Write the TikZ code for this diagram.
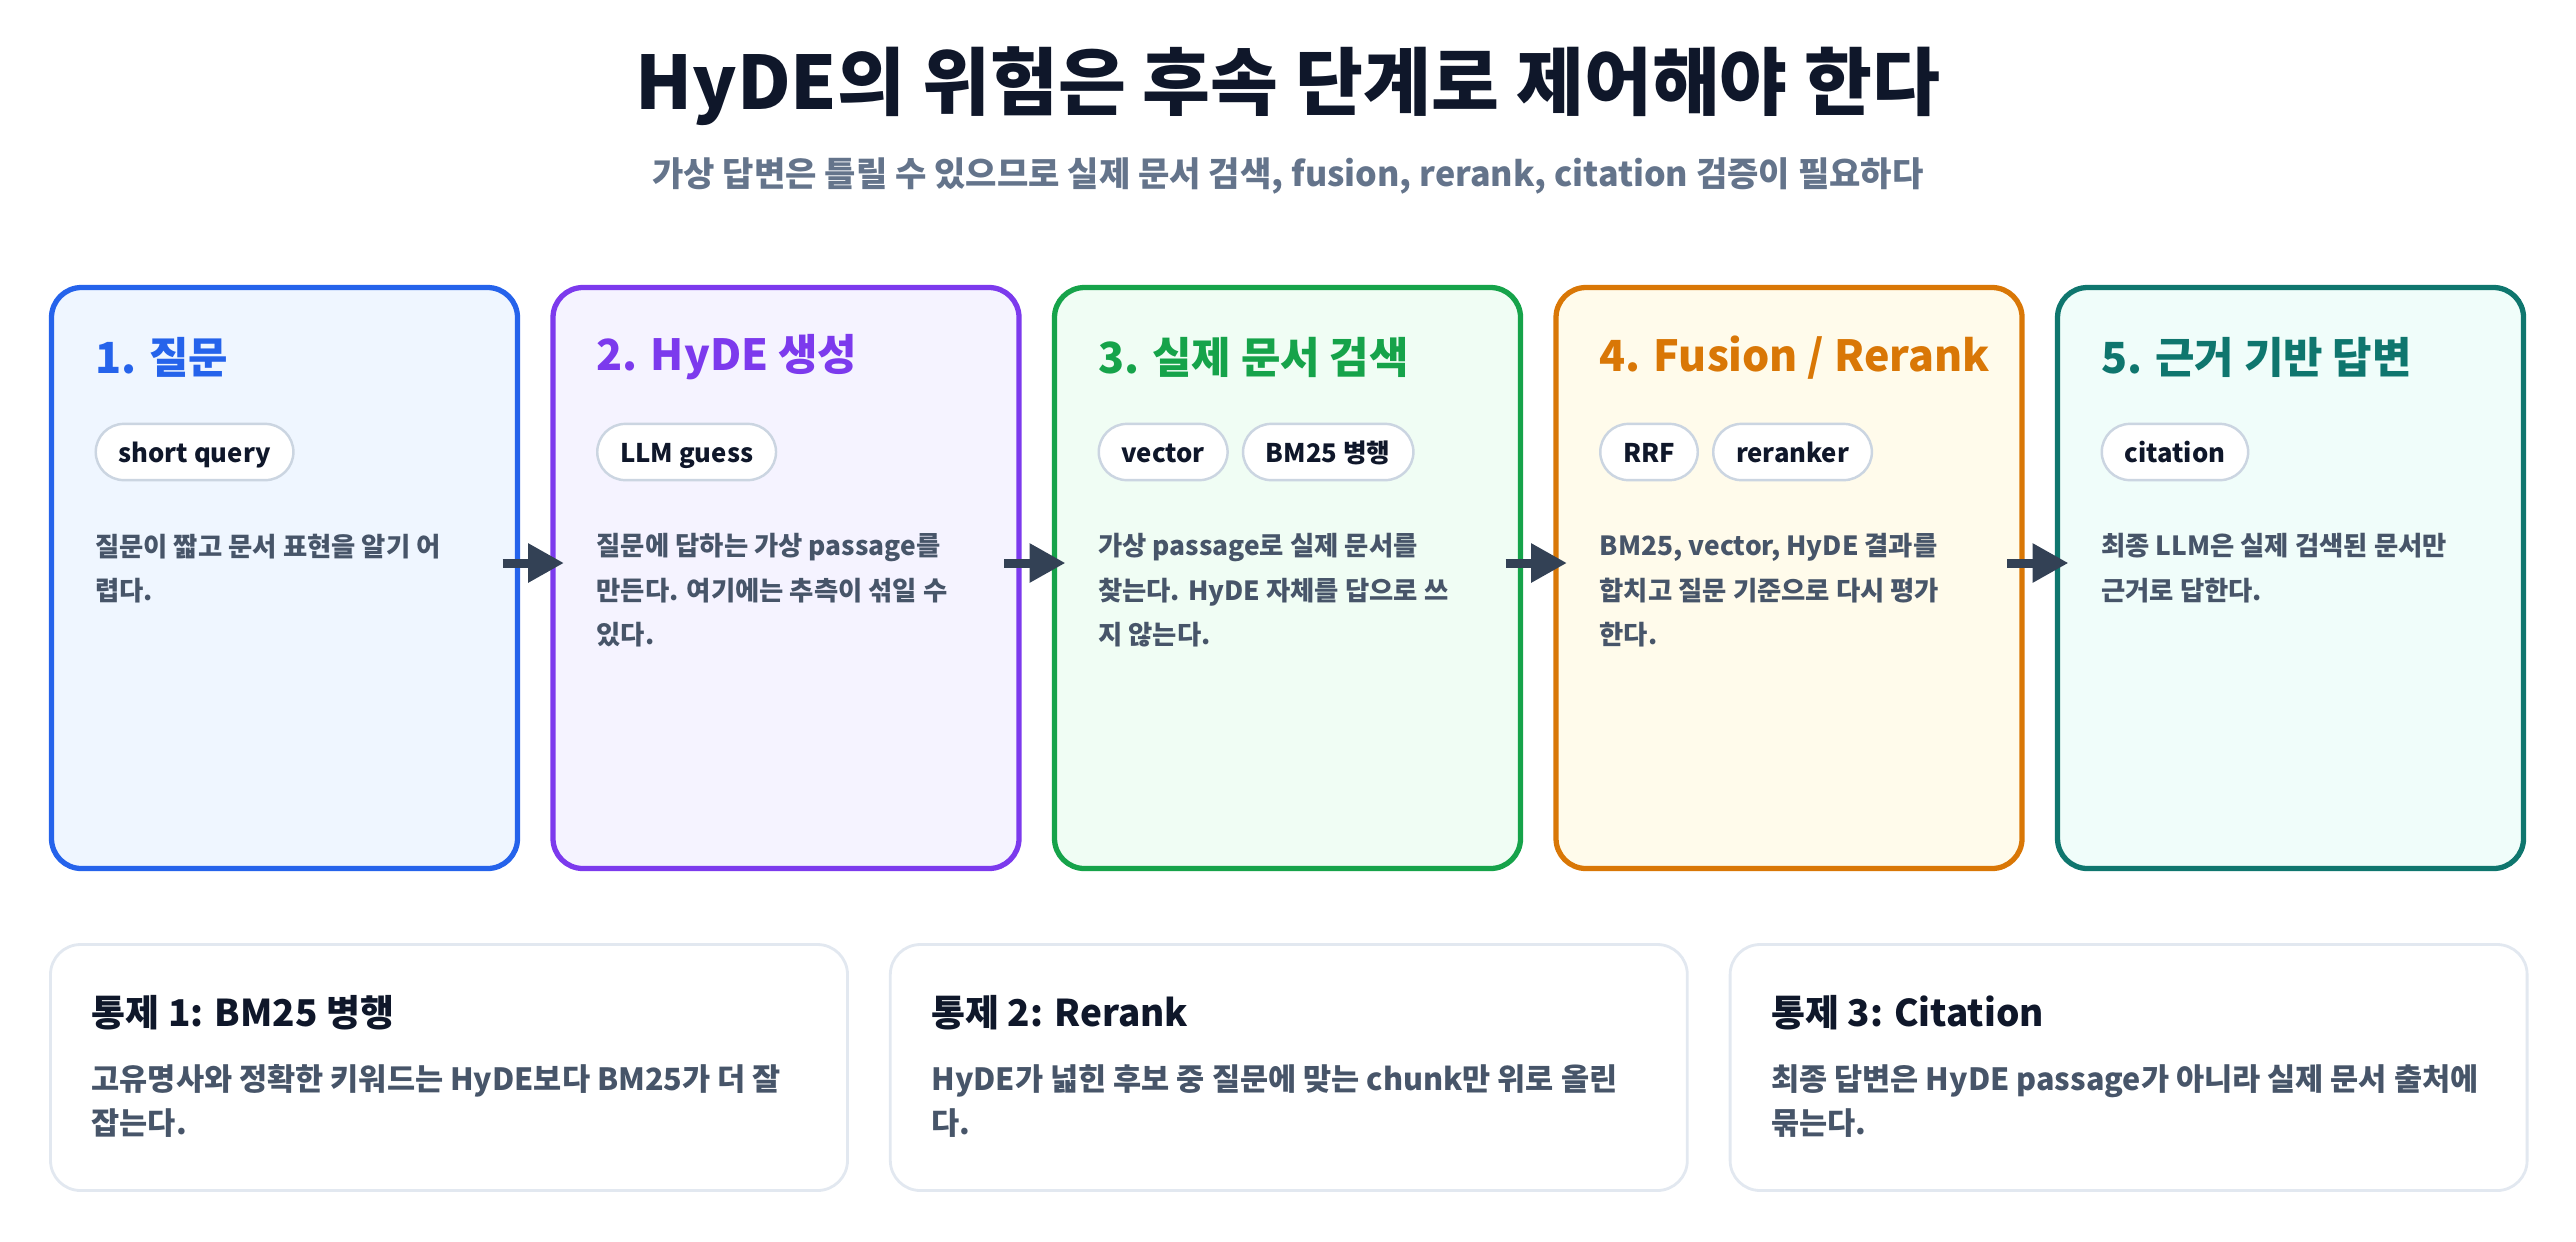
\documentclass[tikz,border=0pt]{standalone}
\usepackage{fontspec}
\setmainfont{Noto Sans CJK KR}
\usetikzlibrary{positioning}
\usetikzlibrary{arrows.meta}
\definecolor{ink}{HTML}{0F172A}
\definecolor{subink}{HTML}{64748B}
\definecolor{bodyink}{HTML}{475569}
\definecolor{arrowink}{HTML}{334155}
\definecolor{pillline}{HTML}{CBD5E1}
\definecolor{cardline}{HTML}{E2E8F0}
\definecolor{blueline}{HTML}{2563EB}   \definecolor{bluefill}{HTML}{EFF6FF}
\definecolor{violetline}{HTML}{7C3AED} \definecolor{violetfill}{HTML}{F5F3FF}
\definecolor{greenline}{HTML}{16A34A}  \definecolor{greenfill}{HTML}{F0FDF4}
\definecolor{amberline}{HTML}{D97706}  \definecolor{amberfill}{HTML}{FFFBEB}
\definecolor{tealline}{HTML}{0F766E}   \definecolor{tealfill}{HTML}{F0FDFA}
\tikzset{node distance=0.355cm, % gap between the step cards
  stepcard/.style={ % one coloured step
    draw=#1line, fill=#1fill,
    line width=1.5pt, outer sep=0pt,
    rounded corners=0.3cm,
    minimum width=4.66cm, minimum height=5.81cm,
    inner sep=0pt},
  steptitle/.style={
    text=#1line, anchor=west, inner sep=0pt,
    font=\bfseries\fontsize{12.2}{14}\selectfont},
  pill/.style={
    draw=pillline, fill=white, line width=0.7pt,
    rounded corners=8pt, minimum height=16pt,
    inner xsep=6.5pt, inner ysep=0pt,
    text height=1.55ex, text depth=0.45ex,
    text=ink, font=\bfseries\fontsize{7.3}{8}\selectfont},
  body/.style={
    text=bodyink, align=left, anchor=north west, inner sep=0pt,
    font=\bfseries\fontsize{7.5}{12.6}\selectfont},
  flow/.style={
    draw=arrowink, line width=0.09cm,
    -{Triangle[length=0.36cm,width=0.37cm]}},
  controlcard/.style={
    draw=cardline, fill=white, line width=0.8pt, outer sep=0pt,
    rounded corners=0.3cm,
    minimum width=7.97cm, minimum height=2.46cm,
    inner sep=0pt},
  controltitle/.style={
    text=ink, anchor=west, inner sep=0pt,
    font=\bfseries\fontsize{10.5}{12}\selectfont},
  controlbody/.style={
    text=bodyink, align=left, anchor=north west, inner sep=0pt,
    font=\bfseries\fontsize{8.7}{12.4}\selectfont}}
\begin{document}
\begin{tikzpicture}
  \useasboundingbox (0,0) rectangle (25.76,-12.41);

  \node [text=ink, font=\bfseries\fontsize{21}{24}\selectfont] (title) at (12.88,-0.86)
    {HyDE의 위험은 후속 단계로 제어해야 한다};
  \node [text=subink, font=\bfseries\fontsize{9.7}{11}\selectfont] (subtitle) at (12.88,-1.76)
    {가상 답변은 틀릴 수 있으므로 실제 문서 검색, fusion, rerank, citation 검증이 필요하다};

  % the five steps
  \node [stepcard=blue, anchor=north west] (qask) at (0.515,-2.875) {};
  \node [stepcard=violet, right=of qask] (qgen) {};
  \node [stepcard=green, right=of qgen] (qfetch) {};
  \node [stepcard=amber, right=of qfetch] (qfuse) {};
  \node [stepcard=teal, right=of qfuse] (qcite) {};

  \node [steptitle=blue] (qask-t) at ([shift={(0.43,-0.70)}]qask.north west) {1. 질문};
  \node [pill, anchor=west] (qask-p1) at ([shift={(0.43,-1.645)}]qask.north west) {short query};
  \node [body] (qask-b) at ([shift={(0.43,-2.455)}]qask.north west) {
    질문이 짧고 문서 표현을 알기 어\\
    렵다.};

  \node [steptitle=violet] (qgen-t) at ([shift={(0.43,-0.70)}]qgen.north west) {2. HyDE 생성};
  \node [pill, anchor=west] (qgen-p1) at ([shift={(0.43,-1.645)}]qgen.north west) {LLM guess};
  \node [body] (qgen-b) at ([shift={(0.43,-2.455)}]qgen.north west) {
    질문에 답하는 가상 passage를\\
    만든다. 여기에는 추측이 섞일 수\\
    있다.};

  \node [steptitle=green] (qfetch-t) at ([shift={(0.43,-0.70)}]qfetch.north west) {3. 실제 문서 검색};
  \node [pill, anchor=west] (qfetch-p1) at ([shift={(0.43,-1.645)}]qfetch.north west) {vector};
  \node [pill, right=0.13cm of qfetch-p1] (qfetch-p2) {BM25 병행};
  \node [body] (qfetch-b) at ([shift={(0.43,-2.455)}]qfetch.north west) {
    가상 passage로 실제 문서를\\
    찾는다. HyDE 자체를 답으로 쓰\\
    지 않는다.};

  \node [steptitle=amber] (qfuse-t) at ([shift={(0.43,-0.70)}]qfuse.north west) {4. Fusion / Rerank};
  \node [pill, anchor=west] (qfuse-p1) at ([shift={(0.43,-1.645)}]qfuse.north west) {RRF};
  \node [pill, right=0.13cm of qfuse-p1] (qfuse-p2) {reranker};
  \node [body] (qfuse-b) at ([shift={(0.43,-2.455)}]qfuse.north west) {
    BM25, vector, HyDE 결과를\\
    합치고 질문 기준으로 다시 평가\\
    한다.};

  \node [steptitle=teal] (qcite-t) at ([shift={(0.43,-0.70)}]qcite.north west) {5. 근거 기반 답변};
  \node [pill, anchor=west] (qcite-p1) at ([shift={(0.43,-1.645)}]qcite.north west) {citation};
  \node [body] (qcite-b) at ([shift={(0.43,-2.455)}]qcite.north west) {
    최종 LLM은 실제 검색된 문서만\\
    근거로 답한다.};

  \draw [flow] ([shift={(-0.15,0.15)}]qask.east) -- ([shift={(0.11,0.15)}]qgen.west);
  \draw [flow] ([shift={(-0.15,0.15)}]qgen.east) -- ([shift={(0.11,0.15)}]qfetch.west);
  \draw [flow] ([shift={(-0.15,0.15)}]qfetch.east) -- ([shift={(0.11,0.15)}]qfuse.west);
  \draw [flow] ([shift={(-0.15,0.15)}]qfuse.east) -- ([shift={(0.11,0.15)}]qcite.west);

  % and the three controls:
  \node [controlcard, anchor=north west] (ctlbm) at (0.505,-9.445) {};
  \node [controlcard, right=0.428cm of ctlbm] (ctlrr) {};
  \node [controlcard, right=0.428cm of ctlrr] (ctlcite) {};

  \node [controltitle] (ctlbm-t) at ([shift={(0.405,-0.685)}]ctlbm.north west) {통제 1: BM25 병행};
  \node [controlbody] (ctlbm-b) at ([shift={(0.405,-1.195)}]ctlbm.north west) {
    고유명사와 정확한 키워드는 HyDE보다 BM25가 더 잘\\
    잡는다.};

  \node [controltitle] (ctlrr-t) at ([shift={(0.405,-0.685)}]ctlrr.north west) {통제 2: Rerank};
  \node [controlbody] (ctlrr-b) at ([shift={(0.405,-1.195)}]ctlrr.north west) {
    HyDE가 넓힌 후보 중 질문에 맞는 chunk만 위로 올린\\
    다.};

  \node [controltitle] (ctlcite-t) at ([shift={(0.405,-0.685)}]ctlcite.north west) {통제 3: Citation};
  \node [controlbody] (ctlcite-b) at ([shift={(0.405,-1.195)}]ctlcite.north west) {
    최종 답변은 HyDE passage가 아니라 실제 문서 출처에\\
    묶는다.};
\end{tikzpicture}
\end{document}
